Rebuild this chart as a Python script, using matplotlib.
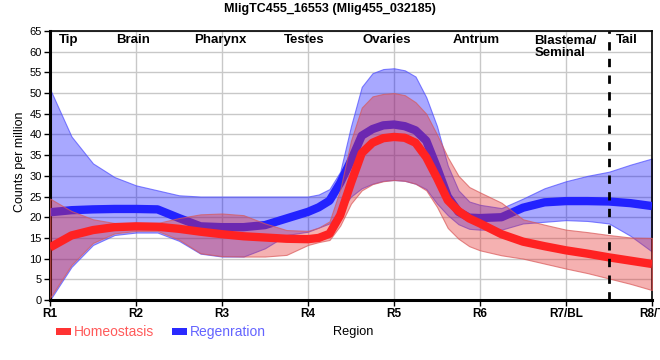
import matplotlib
matplotlib.use('Agg')
import matplotlib.pyplot as plt
from matplotlib.patches import Rectangle
import numpy as np

plt.rcParams['font.family'] = ['Liberation Sans', 'DejaVu Sans']

# ---- data ----
# region axis positions (quarter steps, eighth steps around the ovary peak)
positions = [1.0, 1.25, 1.5, 1.75, 2.0, 2.25, 2.5, 2.75, 3.0, 3.25, 3.5, 3.75, 4.0,
             4.125, 4.25, 4.375, 4.5, 4.625, 4.75, 4.875, 5.0,
             5.125, 5.25, 5.375, 5.5, 5.625, 5.75, 5.875, 6.0,
             6.25, 6.5, 6.75, 7.0, 7.25, 7.5, 7.75, 8.0]
region_ticks = ["R1", "R2", "R3", "R4", "R5", "R6", "R7/BL", "R8/T"]
region_tick_pos = [1, 2, 3, 4, 5, 6, 7, 8]
region_names = ["Tip", "Brain", "Pharynx", "Testes", "Ovaries", "Antrum", "Blastema/\nSeminal", "Tail"]
region_name_pos = [1.22, 1.97, 2.98, 3.95, 4.92, 5.96, 6.63, 7.71]
tail_boundary = 7.5

homeo_mean = [12.7, 15.6, 16.9, 17.6, 17.8, 17.7, 17.2, 16.5, 15.9, 15.4, 15.1, 14.8, 14.7,
              15.0, 16.0, 20.5, 28.3, 35.5, 38.0, 39.1, 39.4,
              39.2, 38.0, 34.5, 29.5, 24.1, 21.5, 19.7, 18.5,
              15.9, 14.1, 13.0, 12.0, 11.2, 10.3, 9.5, 8.7]
homeo_upper = [24.5, 21.5, 19.5, 18.6, 18.6, 18.6, 19.8, 20.7, 20.9, 20.5, 18.5, 16.9, 16.7,
               17.5, 19.0, 26.7, 38.5, 46.5, 49.2, 49.8, 50.0,
               49.5, 47.8, 45.0, 40.0, 34.5, 30.0, 27.3, 26.0,
               23.5, 19.5, 18.2, 17.0, 16.4, 15.7, 15.1, 15.0]
homeo_lower = [0.5, 8.5, 13.8, 16.1, 16.7, 16.7, 14.6, 11.3, 10.6, 10.5, 10.5, 10.9, 13.3,
               14.0, 14.5, 18.0, 23.3, 26.5, 28.0, 28.7, 29.0,
               28.8, 28.1, 26.5, 22.5, 17.4, 14.8, 13.0, 12.0,
               10.8, 10.0, 8.8, 7.6, 6.5, 5.2, 3.9, 2.4]

regen_mean = [21.2, 21.7, 21.9, 22.0, 22.0, 21.9, 19.8, 17.8, 17.6, 17.6, 18.1, 19.7, 21.3,
              22.4, 24.0, 28.3, 33.7, 39.7, 41.3, 42.2, 42.4,
              42.0, 41.0, 38.5, 32.0, 25.0, 21.3, 19.9, 19.8,
              20.0, 22.3, 23.6, 23.9, 23.9, 23.8, 23.4, 22.7]
regen_upper = [51.0, 39.5, 33.0, 29.7, 27.7, 26.5, 25.3, 25.0, 25.0, 25.0, 25.0, 25.0, 25.0,
               25.5, 26.8, 31.0, 42.0, 51.5, 54.8, 55.8, 56.0,
               55.5, 54.0, 49.0, 42.0, 32.5, 26.5, 23.8, 23.0,
               22.2, 24.5, 27.0, 28.7, 30.0, 31.0, 32.7, 34.2]
regen_lower = [0.0, 8.0, 13.3, 15.7, 16.3, 16.3, 14.3, 11.2, 10.5, 10.5, 12.5, 15.7, 16.5,
               17.5, 18.5, 21.5, 25.0, 27.0, 28.1, 28.8, 29.0,
               28.8, 28.1, 26.8, 23.3, 20.5, 18.3, 17.2, 17.0,
               17.0, 18.5, 18.9, 19.3, 19.1, 18.5, 15.5, 11.7]

y_ticks = list(range(0, 66, 5))
title = "MligTC455_16553 (Mlig455_032185)"
series_names = ["Homeostasis", "Regenration"]

# ---- figure ----
W, H = 660, 360
fig = plt.figure(figsize=(W / 100, H / 100), dpi=100)
ax = fig.add_axes([50 / W, 60 / H, 602 / W, 269 / H])
ax.set_xlim(1, 8)
ax.set_ylim(0, 65)

ax.set_xticks(region_tick_pos)
ax.set_xticklabels(region_ticks, fontsize=8.5, fontweight='bold')
ax.set_yticks(y_ticks)
ax.set_yticklabels([str(v) for v in y_ticks], fontsize=8)
ax.tick_params(axis='both', direction='out', length=4, width=1, pad=2)
ax.grid(True, color='#c8c8c8', lw=1)
ax.set_axisbelow(True)
for s in ['left', 'bottom']:
    ax.spines[s].set_linewidth(2.2)
for s in ['top', 'right']:
    ax.spines[s].set_linewidth(1.2)

# regeneration band + line (drawn first, red on top)
ax.fill_between(positions, regen_lower, regen_upper, facecolor=(0, 0, 1, 0.34),
                edgecolor=(0.3, 0.3, 1, 0.7), lw=0.8, zorder=2)
ax.plot(positions, regen_mean, color='#2222ff', lw=6, solid_capstyle='butt',
        solid_joinstyle='round', zorder=3)
# homeostasis band + line
ax.fill_between(positions, homeo_lower, homeo_upper, facecolor=(0.9, 0.2, 0.2, 0.38),
                edgecolor=(0.85, 0.35, 0.35, 0.7), lw=0.8, zorder=4)
ax.plot(positions, homeo_mean, color='#ff2222', lw=6, solid_capstyle='butt',
        solid_joinstyle='round', zorder=5)

ax.axvline(tail_boundary, color='black', lw=2, ls=(0, (3, 3)), zorder=6)

for name, xpos in zip(region_names, region_name_pos):
    if '\n' in name:
        ax.text(xpos, 64.0, name, ha='left', va='top', fontsize=9.5, fontweight='bold',
                linespacing=0.95, zorder=7)
    else:
        ax.text(xpos, 62.8, name, ha='center', va='center', fontsize=9.5, fontweight='bold', zorder=7)

fig.text(330 / W, 1 - 9 / H, title, ha='center', va='center', fontsize=9, fontweight='bold')
fig.text(20 / W, 1 - 162 / H, "Counts per million", rotation=90, ha='center', va='center', fontsize=9)
fig.text(353 / W, 1 - 332 / H, "Region", ha='center', va='center', fontsize=9.2)

# legend
fig.patches.append(Rectangle((56 / W, 1 - 335 / H), 15 / W, 7 / H, transform=fig.transFigure,
                             facecolor='#ff3333', edgecolor='none'))
fig.text(74 / W, 1 - 332 / H, series_names[0], ha='left', va='center', fontsize=10, color='#ff5a5a')
fig.patches.append(Rectangle((172 / W, 1 - 335 / H), 15 / W, 7 / H, transform=fig.transFigure,
                             facecolor='#2a2aff', edgecolor='none'))
fig.text(190 / W, 1 - 332 / H, series_names[1], ha='left', va='center', fontsize=10, color='#6464ff')

fig.savefig('out.png', dpi=100)
